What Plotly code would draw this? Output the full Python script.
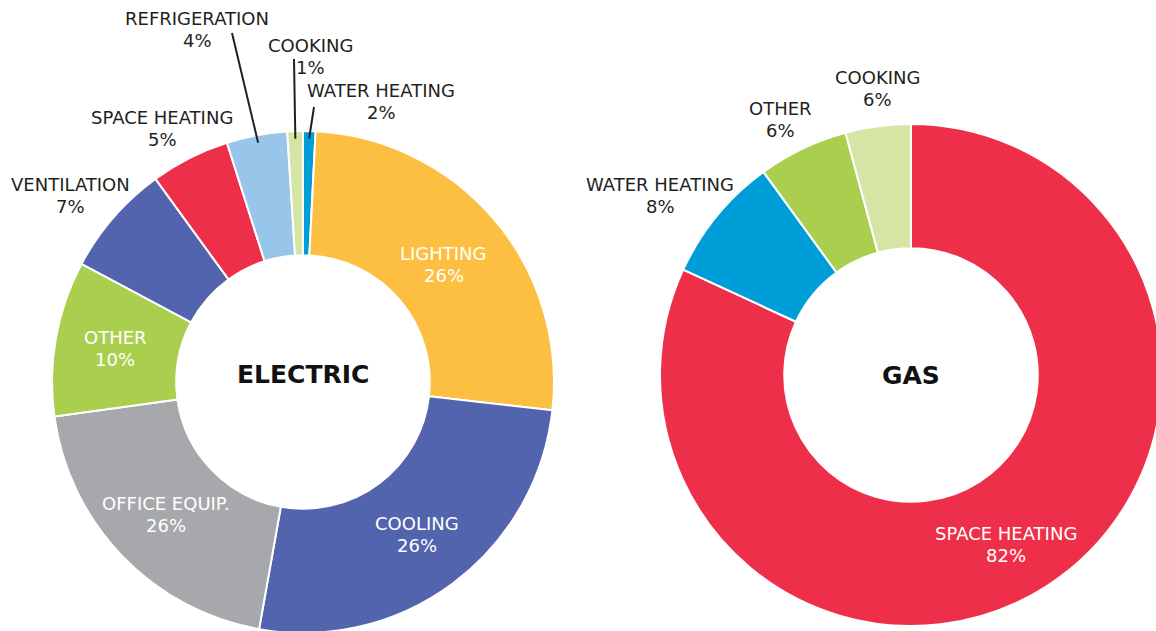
import math
import plotly.graph_objects as go

W, H = 1164, 634

# ---------------- data ----------------
elec_labels = ["WATER HEATING", "LIGHTING", "COOLING", "OFFICE EQUIP.", "OTHER",
               "VENTILATION", "SPACE HEATING", "REFRIGERATION", "COOKING"]
elec_values = [0.8, 26.0, 26.0, 20.0, 10.0, 7.2, 5.1, 3.9, 1.0]
elec_pct = ["2%", "26%", "26%", "26%", "10%", "7%", "5%", "4%", "1%"]

gas_labels = ["SPACE HEATING", "WATER HEATING", "OTHER", "COOKING"]
gas_values = [81.9, 8.1, 5.8, 4.2]
gas_pct = ["82%", "8%", "6%", "6%"]

chart_titles = ["ELECTRIC", "GAS"]

# ---------------- styles ----------------
C_LIGHT = "#FDBF41"
C_BLUE = "#5264AE"
C_GRAY = "#A7A8AB"
C_GREEN = "#AACF4F"
C_RED = "#EE2F4A"
C_LBLUE = "#98C6EA"
C_LGREEN = "#D5E5A3"
C_WATER = "#009ED9"
TXT = "#231F20"

elec_colors = [C_WATER, C_LIGHT, C_BLUE, C_GRAY, C_GREEN, C_BLUE, C_RED, C_LBLUE, C_LGREEN]
gas_colors = [C_RED, C_WATER, C_GREEN, C_LGREEN]

FONT = "DejaVu Sans"
FS = 18
LINE_GAP = 22
HOLE = 0.505

# pie boxes in pixels (left, top, size)
elec_box = (52, 131, 502)
gas_box = (660, 124, 502)

def domain(box):
    l, t, s = box
    return dict(x=[l / W, min(1.0, (l + s) / W)], y=[max(0.0, 1 - (t + s) / H), 1 - t / H])

def geom(box):
    l, t, s = box
    return l + s / 2, t + s / 2, s / 2

def mid_angles(values):
    tot = sum(values)
    out, acc = [], 0.0
    for v in values:
        out.append((acc + v / 2) / tot * 360.0)
        acc += v
    return out

def pt(box, ang, frac):
    cx, cy, r = geom(box)
    a = math.radians(ang)
    return cx + frac * r * math.sin(a), cy - frac * r * math.cos(a)

# label placement: ("in", radial fraction, angle nudge) => inside the ring,
# (x, y) => px centre of an outside text block
elec_label_pos = [(381, 101), ("in", 0.73, 0.5), ("in", 0.76, 0), ("in", 0.76, 0), ("in", 0.76, 0),
                  (70, 196), (162, 129), (197, 29), (310, 56)]
gas_label_pos = [("in", 0.775, 3.4), (660, 196), (781, 119), (877, 88)]
# leader lines: start px (label side) for slices that have them
elec_leaders = {7: (232, 33), 8: (294, 59), 0: (314, 107)}
title_pos = [(303, 374), (911, 375)]

fig = go.Figure()
fig.add_trace(go.Pie(
    labels=elec_labels, values=elec_values, sort=False, direction="clockwise", rotation=0,
    hole=HOLE, domain=domain(elec_box), textinfo="none", hoverinfo="label+value",
    marker=dict(colors=elec_colors, line=dict(color="white", width=2)),
    showlegend=False,
))
fig.add_trace(go.Pie(
    labels=gas_labels, values=gas_values, sort=False, direction="clockwise", rotation=0,
    hole=HOLE, domain=domain(gas_box), textinfo="none", hoverinfo="label+value",
    marker=dict(colors=gas_colors, line=dict(color="white", width=2)),
    showlegend=False,
))

annotations = []
shapes = []

def text_ann(x, y, text, color, size, bold=False):
    annotations.append(dict(
        x=x / W, y=1 - y / H, xref="paper", yref="paper", showarrow=False,
        text=f"<b>{text}</b>" if bold else text, align="center",
        xanchor="center", yanchor="middle",
        font=dict(family=FONT, size=size, color=color),
    ))

def add_labels(box, labels, values, pcts, positions, leaders):
    mids = mid_angles(values)
    for i, (lab, pc, pos) in enumerate(zip(labels, pcts, positions)):
        if pos[0] == "in":
            x, y = pt(box, mids[i] + pos[2], pos[1])
            color = "white"
        else:
            x, y = pos
            color = TXT
        text_ann(x, y - LINE_GAP / 2, lab, color, FS)
        text_ann(x, y + LINE_GAP / 2, pc, color, FS)
        if i in leaders:
            sx, sy = leaders[i]
            ex, ey = pt(box, mids[i], 0.97)
            shapes.append(dict(type="line", xref="paper", yref="paper",
                               x0=sx / W, y0=1 - sy / H, x1=ex / W, y1=1 - ey / H,
                               line=dict(color=TXT, width=2)))

add_labels(elec_box, elec_labels, elec_values, elec_pct, elec_label_pos, elec_leaders)
add_labels(gas_box, gas_labels, gas_values, gas_pct, gas_label_pos, {})
for t, (tx, ty) in zip(chart_titles, title_pos):
    text_ann(tx, ty, t, "#111111", 25, bold=True)

fig.update_layout(
    width=W, height=H, margin=dict(l=0, r=0, t=0, b=0),
    paper_bgcolor="white", plot_bgcolor="white",
    annotations=annotations, shapes=shapes,
    font=dict(family=FONT, color=TXT),
)

fig.write_html(
    "out.html",
    config={"displayModeBar": False},
    post_script="document.body.style.margin='0';"
                "document.body.style.overflow='hidden';"
                "document.documentElement.style.overflow='hidden';",
)
